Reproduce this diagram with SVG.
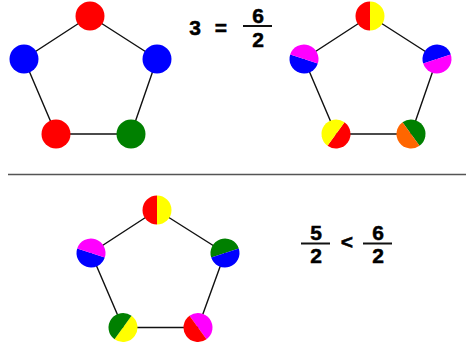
<svg xmlns="http://www.w3.org/2000/svg" width="467" height="347" viewBox="0 0 467 347">
<style>
.e{stroke:#111;stroke-width:1.4;fill:none}
.t{font-family:"Liberation Sans",Arial,sans-serif;font-weight:bold;font-size:21px;fill:#000;stroke:#000;stroke-width:0.5;text-anchor:middle}
.fl{stroke:#111;stroke-width:2}
</style>
<defs>
<path id="L" d="M0,-14.5 A14.5,14.5 0 0 0 0,14.5 Z"/>
<path id="R" d="M0,-14.5 A14.5,14.5 0 0 1 0,14.5 Z"/>
</defs>
<rect width="467" height="347" fill="#fff"/>
<g id="connectors">
<path class="e" d="M90,16 L24,59 L56,134 L131,134 L157,59 Z"/>
<path class="e" d="M370,16 L304,59 L336,134 L411,134 L437,59 Z"/>
<path class="e" d="M157,210 L91,253 L123,327.5 L198,327.5 L225,253 Z"/>
</g>
<line id="divider" x1="8" y1="174.5" x2="466" y2="174.5" stroke="#555" stroke-width="1.5"/>
<g id="g1-top"><circle cx="90" cy="16" r="14.5" fill="#f00"/></g>
<g id="g1-left"><circle cx="24" cy="59" r="14.5" fill="#00f"/></g>
<g id="g1-right"><circle cx="157" cy="59" r="14.5" fill="#00f"/></g>
<g id="g1-bl"><circle cx="56" cy="134" r="14.5" fill="#f00"/></g>
<g id="g1-br"><circle cx="131" cy="134" r="14.5" fill="#008000"/></g>
<g id="g2-top" transform="translate(370,16)"><use href="#L" fill="#f00"/><use href="#R" fill="#ff0"/></g>
<g id="g2-left" transform="translate(304,59) rotate(-72)"><use href="#L" fill="#00f"/><use href="#R" fill="#f0f"/></g>
<g id="g2-right" transform="translate(437,59) rotate(72)"><use href="#L" fill="#00f"/><use href="#R" fill="#f0f"/></g>
<g id="g2-bl" transform="translate(336,134) rotate(-144)"><use href="#L" fill="#f00"/><use href="#R" fill="#ff0"/></g>
<g id="g2-br" transform="translate(411,134) rotate(144)"><use href="#L" fill="#008000"/><use href="#R" fill="#f60"/></g>
<g id="g3-top" transform="translate(157,210)"><use href="#L" fill="#f00"/><use href="#R" fill="#ff0"/></g>
<g id="g3-left" transform="translate(91,253) rotate(-72)"><use href="#L" fill="#00f"/><use href="#R" fill="#f0f"/></g>
<g id="g3-right" transform="translate(225,253) rotate(72)"><use href="#L" fill="#008000"/><use href="#R" fill="#00f"/></g>
<g id="g3-bl" transform="translate(123,327.5) rotate(-144)"><use href="#L" fill="#ff0"/><use href="#R" fill="#008000"/></g>
<g id="g3-br" transform="translate(198,327.5) rotate(144)"><use href="#L" fill="#f0f"/><use href="#R" fill="#f00"/></g>
<g id="eq1">
<text class="t" x="195" y="35">3</text>
<text class="t" x="221" y="35">=</text>
<text class="t" x="258" y="23">6</text>
<line class="fl" x1="243" y1="26" x2="272" y2="26"/>
<text class="t" x="258" y="47">2</text>
</g>
<g id="eq2">
<text class="t" x="316" y="240">5</text>
<line class="fl" x1="301" y1="243.5" x2="330" y2="243.5"/>
<text class="t" x="316" y="263">2</text>
<text class="t" x="347" y="249">&lt;</text>
<text class="t" x="378" y="240">6</text>
<line class="fl" x1="363" y1="243.5" x2="392" y2="243.5"/>
<text class="t" x="378" y="263">2</text>
</g>
</svg>
